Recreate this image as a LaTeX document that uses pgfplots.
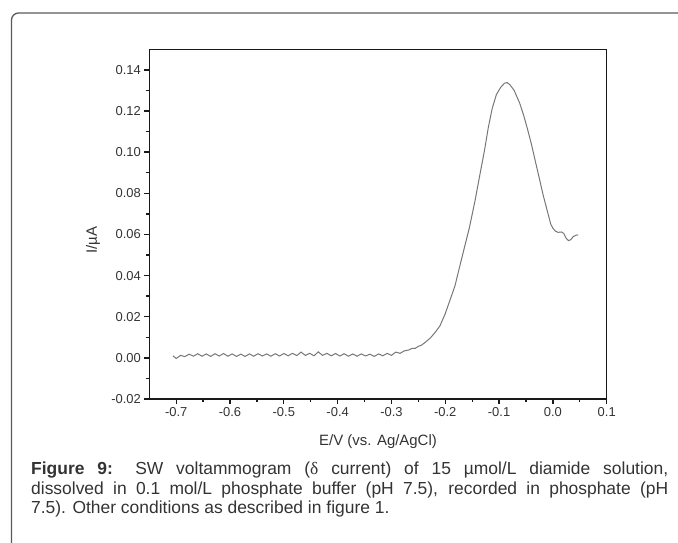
\documentclass[border=0pt]{standalone}
\usepackage{pgfplots}
\pgfplotsset{compat=1.18}
\usepackage{fontspec}
\setmainfont{Liberation Sans}
\newfontfamily\serifdelta{Liberation Serif}
\definecolor{txt}{HTML}{333333}
\definecolor{curve}{HTML}{777777}
\definecolor{frame}{HTML}{5A5A5A}
\begin{document}
\begin{tikzpicture}[x=1bp,y=1bp]
\path[use as bounding box] (0,0) rectangle (678,543);
\draw[color=frame, line width=1.3bp, rounded corners=7bp] (11.5,-10) -- (11.5,530) -- (700,530);
\begin{axis}[
  at={(149.3bp,144bp)}, anchor=south west,
  scale only axis, width=457.4bp, height=349.7bp,
  xmin=-0.75, xmax=0.1, ymin=-0.02, ymax=0.15,
  xtick={-0.7,-0.6,-0.5,-0.4,-0.3,-0.2,-0.1,0,0.1},
  ytick={-0.02,0,0.02,0.04,0.06,0.08,0.10,0.12,0.14},
  minor x tick num=1, minor y tick num=1,
  tick align=outside, xtick pos=bottom, ytick pos=left,
  major tick length=5bp, minor tick length=3bp,
  axis line style={line width=1.5bp, black!90},
  every tick/.style={black!90, line width=1.3bp},
  tick label style={font=\fontsize{13}{15}\selectfont, color=txt},
  /pgf/number format/assume math mode=true,
  xticklabel style={/pgf/number format/.cd, fixed, fixed zerofill, precision=1},
  yticklabel style={/pgf/number format/.cd, fixed, fixed zerofill, precision=2},
  scaled y ticks=false, scaled x ticks=false,
  xlabel={E/V (vs. Ag/AgCl)}, ylabel={I/µA},
  label style={font=\fontsize{15}{17}\selectfont, color=txt},
  xlabel style={at={(axis description cs:0.5,-0.123)}, anchor=center},
  ylabel style={at={(axis description cs:-0.123,0.455)}, anchor=center},
]
\addplot[curve, line width=1.0bp, mark=none] table {
x y
-0.706 0.0010
-0.700 -0.0003
-0.692 0.0012
-0.684 0.0006
-0.676 0.0018
-0.668 0.0008
-0.660 0.0020
-0.652 0.0008
-0.644 0.0019
-0.636 0.0007
-0.628 0.0020
-0.620 0.0009
-0.612 0.0021
-0.604 0.0008
-0.596 0.0019
-0.588 0.0007
-0.580 0.0018
-0.572 0.0007
-0.564 0.0019
-0.556 0.0008
-0.548 0.0020
-0.540 0.0009
-0.532 0.0019
-0.524 0.0008
-0.516 0.0020
-0.508 0.0009
-0.500 0.0021
-0.492 0.0010
-0.484 0.0022
-0.476 0.0011
-0.468 0.0028
-0.460 0.0012
-0.452 0.0022
-0.444 0.0010
-0.436 0.0029
-0.428 0.0012
-0.420 0.0022
-0.412 0.0010
-0.404 0.0021
-0.396 0.0009
-0.388 0.0020
-0.380 0.0008
-0.372 0.0019
-0.364 0.0008
-0.356 0.0019
-0.348 0.0009
-0.340 0.0018
-0.332 0.0007
-0.324 0.0019
-0.316 0.0010
-0.308 0.0022
-0.300 0.0012
-0.292 0.0028
-0.284 0.0022
-0.276 0.0034
-0.268 0.0038
-0.262 0.0046
-0.256 0.0046
-0.250 0.0056
-0.244 0.0062
-0.236 0.0078
-0.228 0.0096
-0.220 0.0120
-0.210 0.0155
-0.200 0.0215
-0.190 0.0290
-0.182 0.0350
-0.175 0.0425
-0.165 0.0530
-0.155 0.0635
-0.145 0.0760
-0.135 0.0900
-0.127 0.1010
-0.120 0.1120
-0.113 0.1210
-0.105 0.1280
-0.097 0.1315
-0.090 0.1335
-0.085 0.1338
-0.080 0.1328
-0.072 0.1300
-0.062 0.1240
-0.055 0.1185
-0.048 0.1120
-0.040 0.1040
-0.033 0.0960
-0.025 0.0870
-0.018 0.0790
-0.010 0.0710
-0.004 0.0650
0.000 0.0630
0.005 0.0615
0.010 0.0610
0.016 0.0612
0.020 0.0605
0.025 0.0580
0.029 0.0570
0.033 0.0574
0.038 0.0590
0.043 0.0596
0.047 0.0598
};
\end{axis}
\node[anchor=north west, text width=637bp, align=justify, inner sep=0pt,
      font=\fontsize{17.5}{19.5}\selectfont, color=txt] at (31,81)
  {\textbf{Figure 9:} SW voltammogram ({\serifdelta δ} current) of 15 µmol/L diamide solution,\linebreak dissolved in 0.1 mol/L phosphate buffer (pH 7.5), recorded in phosphate (pH\linebreak 7.5). Other conditions as described in figure 1.};
\end{tikzpicture}
\end{document}
